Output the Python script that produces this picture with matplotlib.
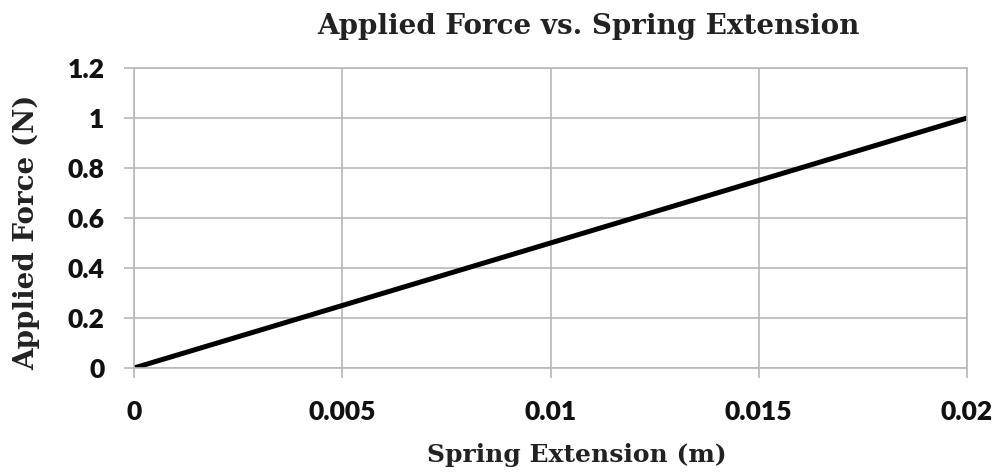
import matplotlib
matplotlib.use("Agg")
import matplotlib.pyplot as plt

extension = [0.0, 0.004, 0.008, 0.012, 0.016, 0.02]
force = [0.0, 0.2, 0.4, 0.6, 0.8, 1.0]
xticks = [0, 0.005, 0.01, 0.015, 0.02]
xticklabels = ["0", "0.005", "0.01", "0.015", "0.02"]
yticks = [0, 0.2, 0.4, 0.6, 0.8, 1.0, 1.2]
yticklabels = ["0", "0.2", "0.4", "0.6", "0.8", "1", "1.2"]

fig = plt.figure(figsize=(9.97, 4.76), dpi=100)
ax = fig.add_axes([134/997, 1-368/476, (967-134)/997, (368-68)/476])
grid_c = "#b8b8b8"
ax.plot(extension, force, color="black", lw=3.6, solid_capstyle="round")
ax.set_xlim(0, 0.02)
ax.set_ylim(0, 1.2)
ax.set_xticks(xticks)
ax.set_xticklabels(xticklabels)
ax.set_yticks(yticks)
ax.set_yticklabels(yticklabels)
ax.grid(True, color=grid_c, lw=1.2)
ax.set_axisbelow(True)
for s in ax.spines.values():
    s.set_color(grid_c)
    s.set_linewidth(1.2)
ax.tick_params(axis="both", colors=grid_c, length=7.2, width=1.2, labelcolor="#111111")
for lab in ax.get_xticklabels() + ax.get_yticklabels():
    lab.set_fontfamily("Lato")
    lab.set_fontweight("heavy")
    lab.set_fontsize(19)
ax.tick_params(axis="x", pad=16)
ax.tick_params(axis="y", pad=14)

fig.text(588/997, 1-27/476, "Applied Force vs. Spring Extension", ha="center", va="center",
         family="DejaVu Serif", fontweight="bold", fontsize=20, color="#222222")
fig.text(577/997, 1-455/476, "Spring Extension (m)", ha="center", va="center",
         family="DejaVu Serif", fontweight="bold", fontsize=18, color="#222222")
fig.text(27/997, 1-232/476, "Applied Force (N)", ha="center", va="center", rotation=90,
         family="DejaVu Serif", fontweight="bold", fontsize=20, color="#222222")

fig.savefig("out.png", dpi=100)
